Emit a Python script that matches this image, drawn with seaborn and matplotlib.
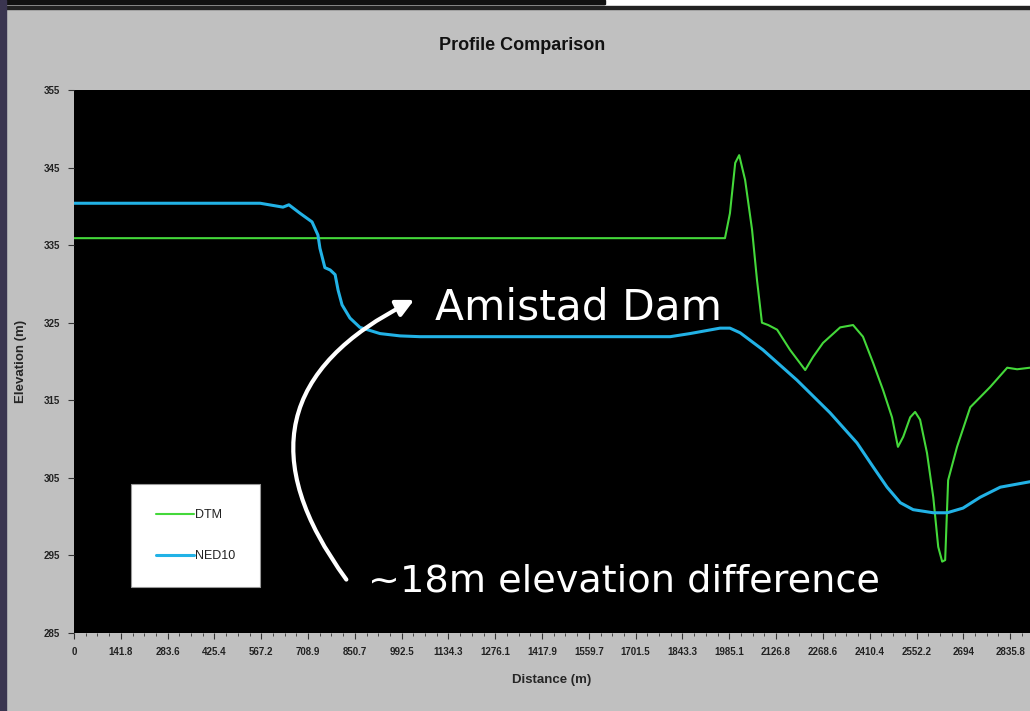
import pandas as pd
import numpy as np
import matplotlib.pyplot as plt
import seaborn as sns
from matplotlib.patches import Rectangle
from matplotlib.ticker import AutoMinorLocator

# Values
dtm_dist = [0, 1972, 1987, 2003, 2015, 2033, 2054, 2069, 2084, 2103, 2130, 2169, 2215,
            2239, 2269, 2321, 2360, 2390, 2421, 2451, 2478, 2496, 2512, 2533, 2548, 2563,
            2584, 2603, 2618, 2630, 2639, 2648, 2675, 2715, 2745, 2775, 2827, 2857, 2896]
dtm_elev = [335.9, 335.9, 339.1, 345.6, 346.6, 343.4, 337.0, 330.5, 325.0, 324.7, 324.1,
            321.5, 318.9, 320.6, 322.4, 324.4, 324.7, 323.2, 319.8, 316.3, 312.8, 309.0,
            310.3, 312.8, 313.5, 312.5, 308.2, 302.5, 296.1, 294.2, 294.4, 304.7, 309.0,
            314.1, 315.4, 316.7, 319.2, 319.0, 319.2]

ned_dist = [0, 564, 633, 651, 685, 721, 739, 745, 760, 776, 791, 800, 812, 836, 866, 927,
            988, 1048, 1806, 1866, 1957, 1987, 2018, 2087, 2190, 2290, 2372, 2421, 2463,
            2503, 2542, 2603, 2645, 2693, 2745, 2806, 2896]
ned_elev = [340.4, 340.4, 339.9, 340.2, 339.1, 338.0, 336.3, 334.6, 332.1, 331.8, 331.2,
            329.2, 327.3, 325.6, 324.4, 323.6, 323.3, 323.2, 323.2, 323.6, 324.3, 324.3,
            323.7, 321.5, 317.6, 313.4, 309.5, 306.4, 303.8, 301.8, 300.9, 300.5, 300.5,
            301.1, 302.5, 303.8, 304.5]

x_tick_labels = ['0', '141.8', '283.6', '425.4', '567.2', '708.9', '850.7', '992.5',
                 '1134.3', '1276.1', '1417.9', '1559.7', '1701.5', '1843.3', '1985.1',
                 '2126.8', '2268.6', '2410.4', '2552.2', '2694', '2835.8']
y_ticks = [285, 295, 305, 315, 325, 335, 345, 355]

df = pd.concat([
    pd.DataFrame({'Distance': dtm_dist, 'Elevation': dtm_elev, 'Series': 'DTM'}),
    pd.DataFrame({'Distance': ned_dist, 'Elevation': ned_elev, 'Series': 'NED10'}),
])

sns.set_style("ticks")
plt.rcParams['font.family'] = ['Liberation Sans', 'DejaVu Sans']

fig = plt.figure(figsize=(10.3, 7.11), dpi=100)
fig.patch.set_facecolor('#c0c0c0')
ax = fig.add_axes([74 / 1030, 78 / 711, 1 - 74 / 1030, 543 / 711])
ax.set_facecolor('black')

sns.lineplot(data=df, x='Distance', y='Elevation', hue='Series',
             palette={'DTM': '#44d83a', 'NED10': '#22b2e6'},
             size='Series', sizes={'DTM': 1.5, 'NED10': 2.2},
             ax=ax, sort=False, legend=True)

step = 141.79
ax.set_xlim(0, 2896)
ax.set_ylim(285, 355)
ax.set_xticks([i * step for i in range(len(x_tick_labels))])
ax.set_xticklabels(x_tick_labels, fontsize=7, fontweight='bold', color='#222222')
ax.xaxis.set_minor_locator(AutoMinorLocator(4))
ax.set_yticks(y_ticks)
ax.set_yticklabels([str(v) for v in y_ticks], fontsize=7, fontweight='bold', color='#222222')
ax.tick_params(axis='both', which='major', length=4, width=0.8, color='#333333', pad=6)
ax.tick_params(axis='x', which='minor', length=2, width=0.6, color='#333333')
for s in ax.spines.values():
    s.set_visible(False)

ax.set_xlabel('Distance (m)', fontsize=9.5, fontweight='bold', labelpad=12)
ax.set_ylabel('Elevation (m)', fontsize=9.5, fontweight='bold', labelpad=12)
fig.text(522 / 1030, 1 - 45 / 711, 'Profile Comparison', ha='center', va='center',
         fontsize=13, fontweight='bold', color='#111111')

handles, labels = ax.get_legend_handles_labels()
leg = ax.legend(handles, labels, loc='lower left',
                bbox_to_anchor=((131 - 74) / 956, (633 - 587) / 543),
                frameon=True, fancybox=False, framealpha=1, fontsize=9,
                labelspacing=2.3, handlelength=3.0, handletextpad=0.1,
                borderpad=2.0, borderaxespad=0)
leg.get_frame().set_facecolor('white')
leg.get_frame().set_edgecolor('#999999')
leg.get_frame().set_linewidth(0.8)
for t in leg.get_texts():
    t.set_color('#222222')

# Overlaid slide annotations
ax.text(1095, 326.9, 'Amistad Dam', color='white', fontsize=30.5,
        family='DejaVu Sans', va='center', ha='left')
ax.text(890, 291.7, '~18m elevation difference', color='white', fontsize=27.5,
        family='DejaVu Sans', va='center', ha='left')
ax.annotate('', xy=(1038, 328.1), xytext=(830, 291.6),
            arrowprops=dict(arrowstyle='-|>', color='white', lw=3.0,
                            mutation_scale=26,
                            connectionstyle='arc3,rad=-0.6'))

# Screenshot frame edges
fig.add_artist(Rectangle((0, 1 - 4 / 711), 605 / 1030, 4 / 711, transform=fig.transFigure,
                         color='#111111', zorder=5))
fig.add_artist(Rectangle((605 / 1030, 1 - 6 / 711), 1, 6 / 711, transform=fig.transFigure,
                         color='white', zorder=4))
fig.add_artist(Rectangle((0, 1 - 9 / 711), 1, 3 / 711, transform=fig.transFigure,
                         color='#222222', zorder=5))
fig.add_artist(Rectangle((0, 0), 6 / 1030, 1, transform=fig.transFigure,
                         color='#3a3550', zorder=5))

plt.savefig('out.png', dpi=100, facecolor=fig.get_facecolor())
